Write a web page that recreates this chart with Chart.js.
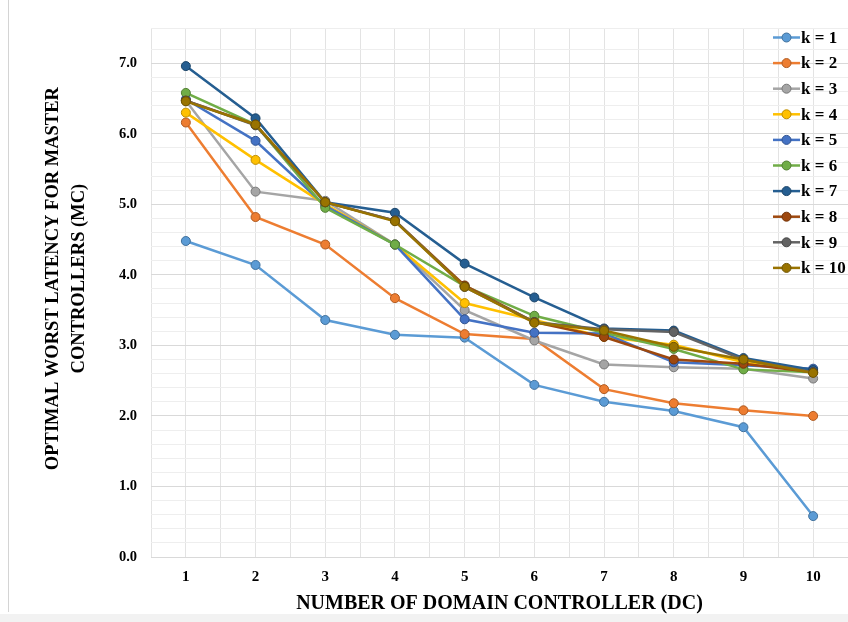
<!DOCTYPE html>
<html>
<head>
<meta charset="utf-8">
<script src="https://cdn.jsdelivr.net/npm/chart.js@4.4.1/dist/chart.umd.min.js"></script>
<style>
  body { margin: 0; background: #fff; }
  #wrap { position: relative; width: 848px; height: 622px; overflow: hidden; }
  #latencyChart { position: absolute; left: 0; top: 0; }
  #edgeLeft { position: absolute; left: 8px; top: 0; width: 1px; height: 612px; background: #d4d4d4; }
  #edgeBottom { position: absolute; left: 0; top: 614px; width: 848px; height: 8px; background: #f2f2f2; }
</style>
</head>
<body>
<div id="wrap">
  <canvas id="latencyChart" width="848" height="622"></canvas>
  <div id="edgeLeft"></div>
  <div id="edgeBottom"></div>
</div>
<script>
// nombre de DC (axe x)
const dcCounts = [1, 2, 3, 4, 5, 6, 7, 8, 9, 10];
const seriesLabels = ['k = 1', 'k = 2', 'k = 3', 'k = 4', 'k = 5', 'k = 6', 'k = 7', 'k = 8', 'k = 9', 'k = 10'];

// latence max optimale pour chaque k
const k1 = [4.48, 4.14, 3.36, 3.15, 3.11, 2.44, 2.20, 2.07, 1.84, 0.58];
const k2 = [6.16, 4.82, 4.43, 3.67, 3.16, 3.09, 2.38, 2.18, 2.08, 2.00];
const k3 = [6.47, 5.18, 5.05, 4.43, 3.50, 3.07, 2.73, 2.69, 2.67, 2.53];
const k4 = [6.30, 5.63, 5.00, 4.43, 3.60, 3.36, 3.12, 3.01, 2.76, 2.63];
const k5 = [6.49, 5.90, 4.98, 4.43, 3.37, 3.18, 3.17, 2.76, 2.72, 2.67];
const k6 = [6.58, 6.13, 4.95, 4.43, 3.84, 3.42, 3.18, 2.95, 2.66, 2.62];
const k7 = [6.96, 6.22, 5.03, 4.88, 4.16, 3.68, 3.24, 3.21, 2.82, 2.65];
const k8 = [6.47, 6.13, 5.03, 4.77, 3.85, 3.33, 3.12, 2.80, 2.74, 2.62];
const k9 = [6.47, 6.12, 5.03, 4.77, 3.83, 3.33, 3.23, 3.19, 2.80, 2.62];
const k10 = [6.46, 6.13, 5.03, 4.76, 3.83, 3.32, 3.21, 2.98, 2.80, 2.61];
const allSeries = [k1, k2, k3, k4, k5, k6, k7, k8, k9, k10];

const yTickValues = [0, 1, 2, 3, 4, 5, 6, 7];

const colors = ['#5B9BD5', '#ED7D31', '#A5A5A5', '#FFC000', '#4472C4', '#70AD47', '#255E91', '#9E480E', '#636363', '#997300'];
const edgeColors = ['#41719C', '#AE5A21', '#787878', '#BC8C00', '#2F528F', '#507E32', '#1B4468', '#733409', '#484848', '#6F5400'];

const FONT = "'Liberation Serif', 'Times New Roman', serif";
// décalage du titre vertical vers le haut (espaces en tête)
const TITLE_SHIFT = '      ';

// légende dessinée par-dessus la zone de tracé, comme dans Excel
const overlayLegend = {
    id: 'overlayLegend',
    afterDraw(chart) {
        const ctx = chart.ctx;
        const x0 = 773, x1 = 800, mx = 786.5;
        const y0 = 37.5, step = 25.6;
        ctx.save();
        ctx.font = "bold 17px " + FONT;
        ctx.textBaseline = 'middle';
        ctx.textAlign = 'left';
        chart.data.datasets.forEach((ds, i) => {
            const y = y0 + i * step;
            ctx.strokeStyle = ds.borderColor;
            ctx.lineWidth = 2.5;
            ctx.beginPath();
            ctx.moveTo(x0, y);
            ctx.lineTo(x1, y);
            ctx.stroke();
            ctx.beginPath();
            ctx.arc(mx, y, 4.5, 0, Math.PI * 2);
            ctx.fillStyle = ds.pointBackgroundColor;
            ctx.fill();
            ctx.lineWidth = 1;
            ctx.strokeStyle = ds.pointBorderColor;
            ctx.stroke();
            ctx.fillStyle = '#000';
            ctx.fillText(ds.label, 801, y + 1);
        });
        ctx.restore();
    }
};

function isWhole(v) {
    return Math.abs(v - Math.round(v)) < 1e-6;
}

const datasets = allSeries.map((values, i) => ({
    label: seriesLabels[i],
    data: values.map((v, j) => ({ x: dcCounts[j], y: v })),
    borderColor: colors[i],
    backgroundColor: colors[i],
    pointBackgroundColor: colors[i],
    pointBorderColor: edgeColors[i],
    pointBorderWidth: 1,
    pointRadius: 4.5,
    borderWidth: 2.5,
    tension: 0,
    order: allSeries.length - i
}));

new Chart(document.getElementById('latencyChart').getContext('2d'), {
    type: 'line',
    data: { datasets },
    options: {
        responsive: false,
        animation: false,
        devicePixelRatio: 1,
        layout: { autoPadding: false, padding: { left: 36, top: 28, right: 0, bottom: 4 } },
        plugins: {
            legend: { display: false },
            tooltip: { enabled: false }
        },
        scales: {
            x: {
                type: 'linear',
                min: 0.5,
                max: 10.5,
                border: { display: false },
                afterFit(scale) {
                    scale.height = 61;
                    scale.paddingLeft = 0;
                    scale.paddingRight = 0;
                },
                grid: {
                    drawTicks: false,
                    color: '#e3e3e3',
                    lineWidth: 1
                },
                ticks: {
                    stepSize: 0.5,
                    autoSkip: false,
                    maxRotation: 0,
                    padding: 11,
                    color: '#000',
                    font: { family: FONT, size: 15, weight: 'bold' },
                    callback: v => (isWhole(v) && dcCounts.includes(Math.round(v))) ? String(Math.round(v)) : ''
                },
                title: {
                    display: true,
                    text: 'NUMBER OF DOMAIN CONTROLLER (DC)',
                    color: '#000',
                    font: { family: FONT, size: 20, weight: 'bold' },
                    padding: { top: 4, bottom: 2 }
                }
            },
            y: {
                min: 0,
                max: 7.5,
                border: { display: false },
                afterFit(scale) {
                    scale.width = 115;
                    scale.paddingTop = 0;
                    scale.paddingBottom = 0;
                },
                grid: {
                    drawTicks: false,
                    color: c => isWhole(c.tick.value) ? '#d9d9d9' : '#eeeeee',
                    lineWidth: 1
                },
                ticks: {
                    stepSize: 0.2,
                    autoSkip: false,
                    padding: 14,
                    color: '#000',
                    font: { family: FONT, size: 14.5, weight: 'bold' },
                    callback: v => (isWhole(v) && yTickValues.includes(Math.round(v))) ? Math.round(v).toFixed(1) : ''
                },
                title: {
                    display: true,
                    text: [TITLE_SHIFT + 'OPTIMAL WORST LATENCY FOR MASTER', TITLE_SHIFT + 'CONTROLLERS (MC)'],
                    color: '#000',
                    font: { family: FONT, size: 18.5, weight: 'bold', lineHeight: 1.4 },
                    padding: { top: 4, bottom: 4 }
                }
            }
        }
    },
    plugins: [overlayLegend]
});
</script>
</body>
</html>
